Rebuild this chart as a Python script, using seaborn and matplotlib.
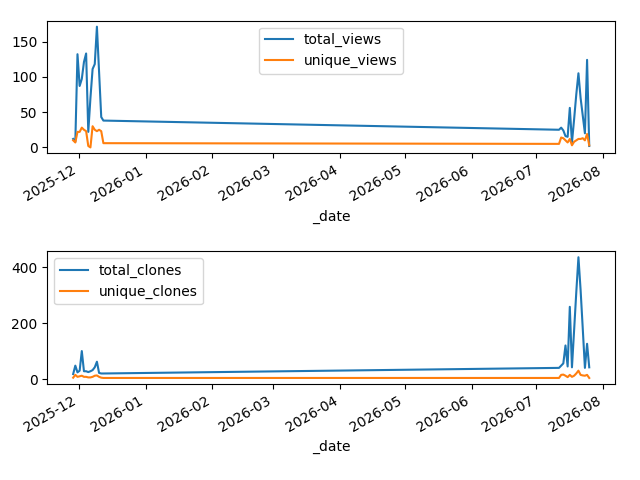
import pandas as pd
import matplotlib
matplotlib.use('Agg')
import matplotlib.pyplot as plt
import seaborn as sns

# daily traffic, two bursts of activity
early_days = pd.date_range('2025-11-28 12:00', '2025-12-12 12:00', freq='D')
late_days = pd.date_range('2026-07-11 12:00', '2026-07-25 12:00', freq='D')
dates = early_days.append(late_days)

total_views = [12, 8, 132, 87, 97, 121, 133, 22, 70, 111, 118, 171, 107, 43, 38,
               25, 28, 24, 16, 15, 56, 7, 40, 75, 105, 70, 45, 20, 124, 2]
unique_views = [10, 7, 22, 22, 28, 25, 23, 2, 0, 30, 25, 23, 25, 23, 6,
                5, 14, 13, 10, 7, 12, 3, 8, 10, 12, 12, 13, 10, 19, 3]
total_clones = [18, 48, 24, 30, 100, 28, 28, 25, 28, 32, 42, 62, 22, 20, 20,
                40, 48, 56, 120, 45, 258, 42, 175, 310, 435, 318, 180, 40, 126, 42]
unique_clones = [5, 15, 8, 10, 12, 8, 8, 6, 6, 8, 12, 13, 8, 5, 4,
                 4, 15, 16, 12, 7, 15, 8, 12, 20, 30, 15, 13, 12, 15, 4]

df = pd.DataFrame({'_date': dates,
                   'total_views': total_views, 'unique_views': unique_views,
                   'total_clones': total_clones, 'unique_clones': unique_clones})

fig, axes = plt.subplots(2, 1, figsize=(6.4, 4.8), dpi=100)
panels = [(['total_views', 'unique_views'], 'upper center'),
          (['total_clones', 'unique_clones'], 'upper left')]
for ax, (cols, loc) in zip(axes, panels):
    for i, col in enumerate(cols):
        sns.lineplot(data=df, x='_date', y=col, label=col, color=f'C{i}', ax=ax)
    ax.set_ylabel('')
    ax.set_xlabel('_date')
    ax.legend(loc=loc)
    for lab in ax.get_xticklabels():
        lab.set_rotation(30)
        lab.set_ha('right')

fig.subplots_adjust(left=0.074, right=0.961, top=0.957, bottom=0.2, hspace=0.736)
plt.savefig('out.png', dpi=100)
